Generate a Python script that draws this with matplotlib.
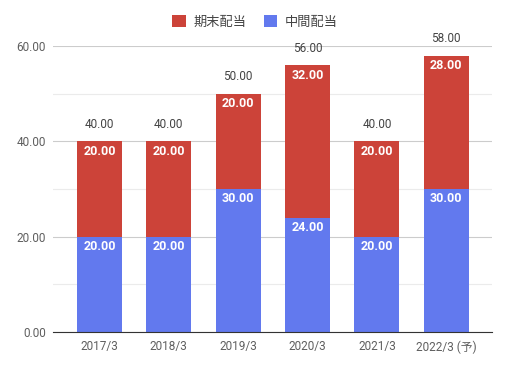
import numpy as np
import matplotlib
matplotlib.use('Agg')
import matplotlib.pyplot as plt

plt.rcParams['font.family'] = ['Roboto', 'Noto Sans CJK JP', 'DejaVu Sans']

categories = ['2017/3', '2018/3', '2019/3', '2020/3', '2021/3', '2022/3 (予)']
interim = [20, 20, 30, 24, 20, 30]      # 中間配当
year_end = [20, 20, 20, 32, 20, 28]     # 期末配当

blue = '#6279ee'
red = '#cc4339'
grey = '#5f5f5f'

fig = plt.figure(figsize=(5.07, 3.67), dpi=100)
ax = fig.add_axes([53/507, 1 - 332/367, 439/507, 286/367])

x = np.arange(len(categories))
totals = np.array(interim) + np.array(year_end)
w = 0.65
ax.bar(x, interim, w, color=blue, label='中間配当', zorder=3)
ax.bar(x, year_end, w, bottom=interim, color=red, label='期末配当', zorder=3)

for i in range(len(x)):
    ax.annotate(f'{interim[i]:.2f}', (x[i], interim[i]), xytext=(0, -10),
                textcoords='offset pixels', ha='center', va='center',
                color='white', fontsize=9, fontweight='bold', zorder=4)
    ax.annotate(f'{year_end[i]:.2f}', (x[i], totals[i]), xytext=(0, -10),
                textcoords='offset pixels', ha='center', va='center',
                color='white', fontsize=9, fontweight='bold', zorder=4)
    ax.annotate(f'{totals[i]:.2f}', (x[i], totals[i]), xytext=(0, 17),
                textcoords='offset pixels', ha='center', va='center',
                color='#444444', fontsize=8.5, zorder=4)

ax.set_xlim(-0.67, 5.66)
ax.set_ylim(0, 60)
ax.set_yticks([0, 20, 40, 60])
ax.set_yticklabels([f'{v:.2f}' for v in [0, 20, 40, 60]])
ax.set_yticks([10, 30, 50], minor=True)
ax.set_xticks(x)
ax.set_xticklabels(categories)
ax.tick_params(axis='both', length=0, colors=grey, labelsize=8.5)
ax.tick_params(axis='y', which='minor', length=0)
ax.tick_params(axis='y', pad=5)
ax.tick_params(axis='x', pad=6)
ax.grid(axis='y', which='major', color='#cccccc', linewidth=0.8, zorder=0)
ax.grid(axis='y', which='minor', color='#ebebeb', linewidth=0.8, zorder=0)
for s in ['top', 'right', 'left']:
    ax.spines[s].set_visible(False)
ax.spines['bottom'].set_color('#333333')
ax.spines['bottom'].set_zorder(5)

h, l = ax.get_legend_handles_labels()
fig.legend(h[::-1], l[::-1], loc='center', bbox_to_anchor=(255/507, 1 - 22/367),
           ncol=2, frameon=False, fontsize=9.5, handlelength=1.0, handleheight=1.0,
           columnspacing=1.3, handletextpad=0.6, labelcolor='#444444')

fig.savefig('out.png', dpi=100)
